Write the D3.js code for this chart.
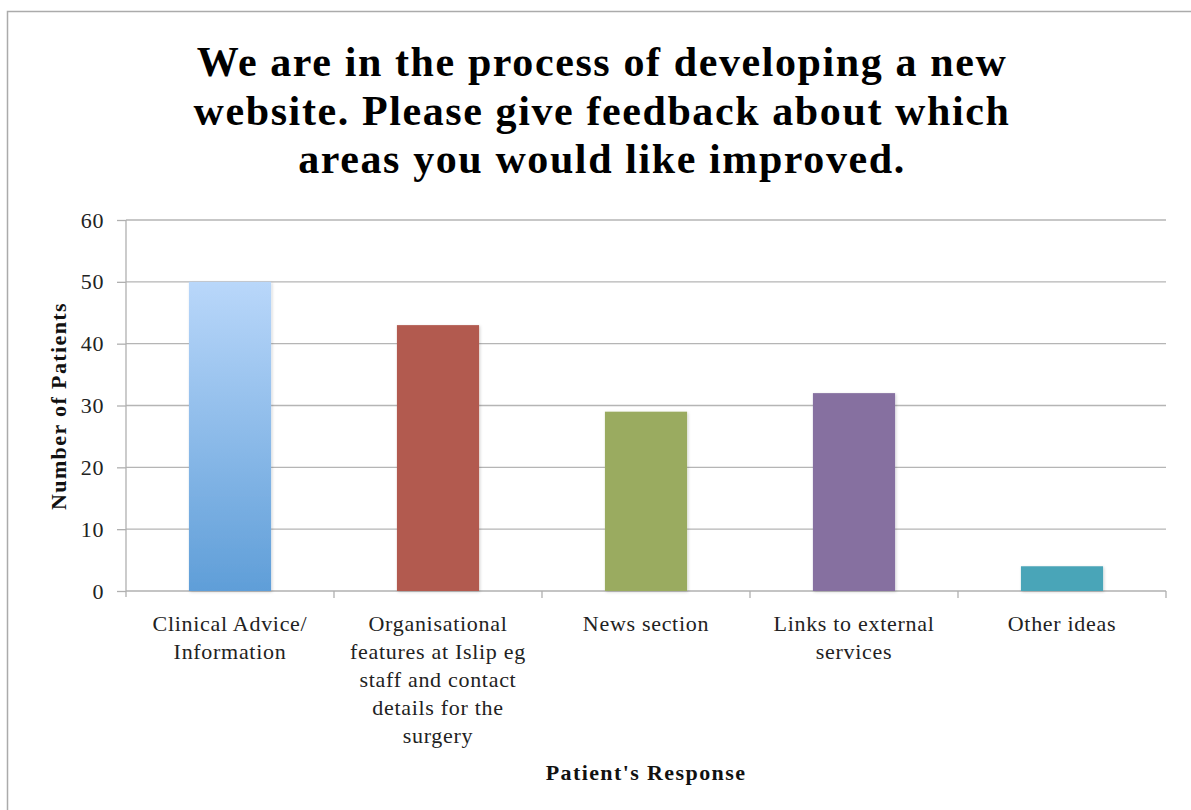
<!DOCTYPE html>
<html>
<head>
<meta charset="utf-8">
<script src="https://cdn.jsdelivr.net/npm/d3@7"></script>
<style>
  html, body { margin: 0; padding: 0; background: #fff; }
  svg { display: block; }
  text { font-family: "Liberation Serif", "DejaVu Serif", serif; }
</style>
</head>
<body>
<svg id="chart" width="1191" height="810"></svg>
<script>
// Survey responses: which website areas patients would like improved
const categories = [
  "Clinical Advice/ Information",
  "Organisational features at Islip eg staff and contact details for the surgery",
  "News section",
  "Links to external services",
  "Other ideas"
];
const categoryLines = [
  ["Clinical Advice/", "Information"],
  ["Organisational", "features at Islip eg", "staff and contact", "details for the", "surgery"],
  ["News section"],
  ["Links to external", "services"],
  ["Other ideas"]
];
const values = [50, 43, 29, 32, 4];
const barColors = ["url(#blueGrad)", "#b25a50", "#9aab60", "#866fa0", "#4aa5b8"];
const yTicks = [0, 10, 20, 30, 40, 50, 60];
const titleLines = [
  "We are in the process of developing a new",
  "website. Please give feedback about which",
  "areas you would like improved."
];
const yTitle = "Number of Patients";
const xTitle = "Patient's Response";

const svg = d3.select("#chart");
const W = 1191, H = 810;
const plot = { left: 126, right: 1166, top: 220, bottom: 591 };

svg.append("rect").attr("width", W).attr("height", H).attr("fill", "#fff");

// outer chart frame
svg.append("rect")
  .attr("x", 7.5).attr("y", 11.5)
  .attr("width", W + 20).attr("height", H + 20)
  .attr("fill", "none").attr("stroke", "#ababab").attr("stroke-width", 1.5);

const defs = svg.append("defs");
const grad = defs.append("linearGradient")
  .attr("id", "blueGrad").attr("x1", 0).attr("y1", 0).attr("x2", 0).attr("y2", 1);
grad.append("stop").attr("offset", "0%").attr("stop-color", "#b9d7fa");
grad.append("stop").attr("offset", "100%").attr("stop-color", "#5f9ed8");

const shadow = defs.append("filter").attr("id", "barShadow")
  .attr("x", "-10%").attr("y", "-10%").attr("width", "130%").attr("height", "120%");
shadow.append("feDropShadow")
  .attr("dx", 1).attr("dy", 1).attr("stdDeviation", 1.5)
  .attr("flood-color", "#000").attr("flood-opacity", 0.18);

const x = d3.scaleBand().domain(categories).range([plot.left, plot.right]).paddingInner(0).paddingOuter(0);
const y = d3.scaleLinear().domain([0, 60]).range([plot.bottom, plot.top]);

// gridlines
svg.append("g")
  .selectAll("line")
  .data(yTicks.filter(d => d > 0))
  .join("line")
  .attr("x1", plot.left).attr("x2", plot.right)
  .attr("y1", d => y(d)).attr("y2", d => y(d))
  .attr("stroke", "#b5b5b5").attr("stroke-width", 1.3);

// y axis
const yAxis = svg.append("g")
  .attr("transform", `translate(${plot.left},0)`)
  .call(d3.axisLeft(y).tickValues(yTicks).tickSize(9).tickPadding(13).tickFormat(d3.format("d")));
yAxis.select(".domain")
  .attr("d", `M0,${plot.top}V${plot.bottom + 6}`)
  .attr("stroke", "#b0b0b0").attr("stroke-width", 1.3);
yAxis.selectAll(".tick line").attr("stroke", "#b0b0b0").attr("stroke-width", 1.3);
yAxis.selectAll(".tick text")
  .attr("font-family", "'Liberation Serif', serif")
  .attr("font-size", 22).attr("letter-spacing", 0.6).attr("fill", "#222");

// x axis baseline and band separator ticks
const xAxisG = svg.append("g");
xAxisG.append("line")
  .attr("x1", plot.left).attr("x2", plot.right)
  .attr("y1", plot.bottom).attr("y2", plot.bottom)
  .attr("stroke", "#b0b0b0").attr("stroke-width", 1.3);
const bounds = categories.map(c => x(c) + x.bandwidth());
xAxisG.selectAll("line.sep")
  .data(bounds)
  .join("line").attr("class", "sep")
  .attr("x1", d => d).attr("x2", d => d)
  .attr("y1", plot.bottom).attr("y2", plot.bottom + 7)
  .attr("stroke", "#b0b0b0").attr("stroke-width", 1.3);

// bars
const barW = x.bandwidth() * 0.395;
svg.append("g")
  .selectAll("rect")
  .data(values)
  .join("rect")
  .attr("x", (d, i) => x(categories[i]) + (x.bandwidth() - barW) / 2)
  .attr("y", d => y(d))
  .attr("width", barW)
  .attr("height", d => y(0) - y(d))
  .attr("fill", (d, i) => barColors[i])
  .attr("filter", "url(#barShadow)");

// category labels
const lab = svg.append("g");
categoryLines.forEach((lines, i) => {
  const t = lab.append("text")
    .attr("text-anchor", "middle")
    .attr("font-size", 22).attr("letter-spacing", 0.7).attr("fill", "#222");
  lines.forEach((ln, j) => {
    t.append("tspan")
      .attr("x", x(categories[i]) + x.bandwidth() / 2)
      .attr("y", 631 + j * 28)
      .text(ln);
  });
});

// axis titles
svg.append("text")
  .attr("transform", `translate(66,406) rotate(-90)`)
  .attr("text-anchor", "middle")
  .attr("font-size", 22).attr("letter-spacing", 1.4)
  .attr("font-weight", "bold").attr("fill", "#111")
  .text(yTitle);

svg.append("text")
  .attr("x", 646).attr("y", 780)
  .attr("text-anchor", "middle")
  .attr("font-size", 22).attr("letter-spacing", 1.4)
  .attr("font-weight", "bold").attr("fill", "#111")
  .text(xTitle);

// chart title
const title = svg.append("text")
  .attr("text-anchor", "middle")
  .attr("font-size", 42).attr("letter-spacing", 1.6)
  .attr("font-weight", "bold").attr("fill", "#000");
titleLines.forEach((ln, j) => {
  title.append("tspan").attr("x", 602).attr("y", 76 + j * 48.5).text(ln);
});
</script>
</body>
</html>
